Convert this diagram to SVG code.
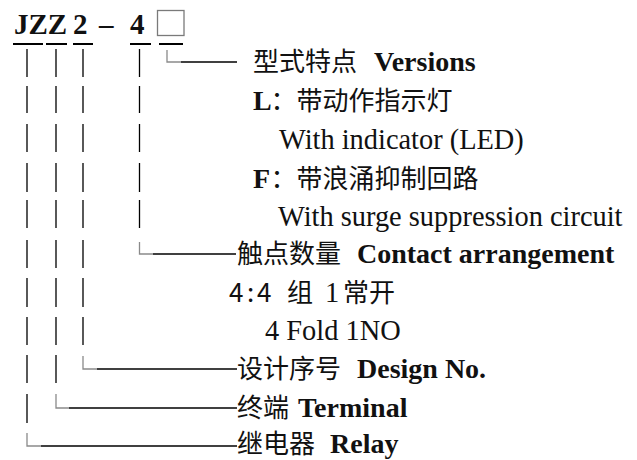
<svg xmlns="http://www.w3.org/2000/svg" width="637" height="460" viewBox="0 0 637 460">
<style>
.cjk{font-family:"Noto Sans CJK SC","Noto Sans CJK JP",sans-serif;font-size:26px;fill:#111}
.ser{font-family:"Liberation Serif","Times New Roman",serif;font-size:28.4px;fill:#111}
.b{font-weight:bold;font-size:28px}
.ln{stroke:#000;stroke-width:1.3;fill:none}
.gr{stroke:#8a8a8a;stroke-width:1.3;fill:none}
.ul{stroke:#000;stroke-width:2.2}
</style>
<rect width="637" height="460" fill="#fff"/>
<g id="model-code">
<text class="ser b" x="14" y="34" style="font-size:29px">JZZ</text>
<text class="ser b" x="73" y="34" style="font-size:29px">2</text>
<text class="ser b" x="99" y="34" style="font-size:29px">–</text>
<text class="ser b" x="130" y="34" style="font-size:29px">4</text>
<rect x="157.5" y="10.5" width="26.5" height="25" fill="none" stroke="#7a7a7a" stroke-width="1.3"/>
<path class="ul" d="M13 44H43M46 44H67M73 44H93M130 44H151M159 44H183"/>
</g>
<g id="connectors">
<path class="ln" d="M27 49V77M27 86V113M27 124V152M27 163V192M27 200V228M27 240V268M27 278V307M27 317V345M27 355V383M27 394V423"/>
<path class="ln" d="M56 49V77M56 86V113M56 124V152M56 163V192M56 200V228M56 240V268M56 278V307M56 317V345M56 355V383"/>
<path class="ln" d="M83 49V77M83 86V113M83 124V152M83 163V192M83 200V228M83 240V268M83 278V307M83 317V345"/>
<path class="ln" d="M139.5 49V77M139.5 86V113M139.5 124V152M139.5 163V192M139.5 200V228"/>
<path class="gr" d="M167 50V62H181"/><path class="ln" d="M181 62H237"/>
<path class="gr" d="M139.5 242V254H153"/><path class="ln" d="M153 254H236"/>
<path class="gr" d="M83 356V369H97"/><path class="ln" d="M97 369H237"/>
<path class="gr" d="M56 394V408H69"/><path class="ln" d="M69 408H237"/>
<path class="gr" d="M27 433V446H41"/><path class="ln" d="M41 446H237"/>
</g>
<g id="versions">
<text class="cjk" x="253" y="71">型式特点</text>
<text class="ser b" x="374" y="71">Versions</text>
<text class="ser b" x="253" y="110">L<tspan class="cjk" font-weight="normal" x="270.5">：带动作指示灯</tspan></text>
<text class="ser" x="279" y="149">With indicator (LED)</text>
<text class="ser b" x="253" y="188">F<tspan class="cjk" font-weight="normal" x="270.5">：带浪涌抑制回路</tspan></text>
<text class="ser" x="278" y="226">With surge suppression circuit</text>
</g>
<g id="contact">
<text class="cjk" x="237" y="263">触点数量</text>
<text class="ser b" x="357" y="263">Contact arrangement</text>
<text class="cjk" x="229 247 257" y="302">4:4</text>
<text class="cjk" x="287" y="302">组</text>
<text class="ser" x="325" y="302">1</text>
<text class="cjk" x="343" y="302">常开</text>
<text class="ser" x="265" y="340">4 Fold 1NO</text>
</g>
<g id="design">
<text class="cjk" x="237" y="378">设计序号</text>
<text class="ser b" x="357" y="378">Design No.</text>
</g>
<g id="terminal">
<text class="cjk" x="237" y="417">终端</text>
<text class="ser b" x="298" y="417">Terminal</text>
</g>
<g id="relay">
<text class="cjk" x="237" y="453">继电器</text>
<text class="ser b" x="330" y="453">Relay</text>
</g>
</svg>
